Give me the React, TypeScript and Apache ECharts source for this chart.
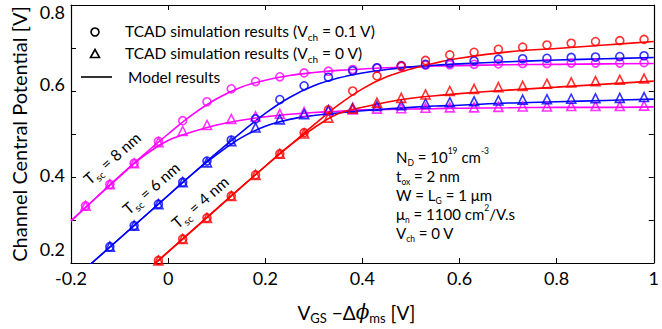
import React, { useEffect, useRef } from 'react';
import * as echarts from 'echarts';

// Simulation (TCAD) sample positions, V_GS - dphi_ms [V]
const xSim = [-0.17, -0.12, -0.07, -0.02, 0.03, 0.08, 0.13, 0.18, 0.23, 0.28, 0.33, 0.38,
  0.43, 0.48, 0.53, 0.58, 0.63, 0.68, 0.73, 0.78, 0.83, 0.88, 0.93, 0.98];

// TCAD results, Tsc = 8 nm
const sim8Vch01 = [0.333, 0.383, 0.432, 0.483, 0.531, 0.575, 0.605, 0.622, 0.633, 0.642, 0.646, 0.650,
  0.653, 0.657, 0.660, 0.661, 0.662, 0.663, 0.664, 0.664, 0.665, 0.665, 0.665, 0.666];
const sim8Vch0 = [0.333, 0.383, 0.432, 0.481, 0.507, 0.521, 0.535, 0.541, 0.547, 0.551, 0.554, 0.557,
  0.559, 0.560, 0.561, 0.562, 0.562, 0.563, 0.564, 0.564, 0.565, 0.565, 0.565, 0.566];
// TCAD results, Tsc = 6 nm
const sim6Vch01 = [null, 0.238, 0.287, 0.337, 0.388, 0.437, 0.486, 0.535, 0.580, 0.612, 0.632, 0.647,
  0.654, 0.659, 0.662, 0.665, 0.670, 0.674, 0.675, 0.676, 0.678, 0.679, 0.680, 0.682];
const sim6Vch0 = [null, 0.238, 0.287, 0.337, 0.388, 0.434, 0.483, 0.515, 0.534, 0.546, 0.556, 0.561,
  0.565, 0.567, 0.571, 0.574, 0.576, 0.578, 0.580, 0.581, 0.582, 0.583, 0.584, 0.586];
// TCAD results, Tsc = 4 nm
const sim4Vch01 = [null, null, null, 0.206, 0.256, 0.305, 0.356, 0.405, 0.454, 0.503, 0.556, 0.600,
  0.635, 0.658, 0.671, 0.684, 0.690, 0.697, 0.702, 0.707, 0.711, 0.715, 0.717, 0.720];
const sim4Vch0 = [null, null, null, 0.206, 0.256, 0.305, 0.356, 0.405, 0.454, 0.501, 0.538, 0.559,
  0.573, 0.584, 0.592, 0.600, 0.605, 0.609, 0.612, 0.617, 0.620, 0.623, 0.626, 0.629];

// Model curves
const xModel = [-0.2, -0.15, -0.1, -0.05, 0, 0.05, 0.1, 0.15, 0.2, 0.25, 0.3, 0.35, 0.4, 0.45,
  0.5, 0.55, 0.6, 0.7, 0.8, 0.9, 1.0];
const model8Vch01 = [0.298, 0.350, 0.402, 0.452, 0.500, 0.545, 0.582, 0.609, 0.625, 0.636, 0.643, 0.648,
  0.651, 0.654, 0.656, 0.658, 0.659, 0.661, 0.662, 0.663, 0.664];
const model8Vch0 = [0.298, 0.350, 0.401, 0.449, 0.485, 0.505, 0.521, 0.532, 0.540, 0.546, 0.550, 0.553,
  0.556, 0.557, 0.558, 0.559, 0.560, 0.561, 0.562, 0.562, 0.563];
const model6Vch01 = [0.157, 0.207, 0.257, 0.307, 0.357, 0.407, 0.456, 0.503, 0.548, 0.585, 0.612, 0.630,
  0.642, 0.650, 0.656, 0.660, 0.663, 0.668, 0.672, 0.675, 0.678];
const model6Vch0 = [0.157, 0.207, 0.257, 0.307, 0.357, 0.407, 0.452, 0.491, 0.518, 0.534, 0.543, 0.549,
  0.554, 0.558, 0.562, 0.565, 0.567, 0.572, 0.575, 0.578, 0.581];
const model4Vch01 = [null, null, null, 0.176, 0.226, 0.276, 0.326, 0.376, 0.425, 0.473, 0.521, 0.567,
  0.605, 0.633, 0.651, 0.665, 0.676, 0.691, 0.699, 0.707, 0.715];
const model4Vch0 = [null, null, null, 0.176, 0.226, 0.276, 0.326, 0.376, 0.425, 0.473, 0.514, 0.547,
  0.562, 0.574, 0.583, 0.589, 0.594, 0.602, 0.609, 0.616, 0.623];

const xTicks = [-0.2, 0, 0.2, 0.4, 0.6, 0.8, 1];
const yTickLabels = [0.2, 0.4, 0.6, 0.8];

const MAGENTA = '#ff00ff';
const BLUE = '#0000ff';
const RED = '#ff0000';
const FONT = 'Lato, "Open Sans", "DejaVu Sans", sans-serif';

const pairs = (xs: number[], ys: (number | null)[]) =>
  xs.map((x, i) => (ys[i] == null ? null : [x, ys[i]])).filter((p) => p !== null);

const linePairs = (xs: number[], ys: (number | null)[]) =>
  xs.map((x, i) => [x, ys[i] == null ? '-' : ys[i]]);

export default function App() {
  const ref = useRef<HTMLDivElement>(null);

  useEffect(() => {
    if (!ref.current) return;
    const chart = echarts.init(ref.current, undefined, { renderer: 'svg' });

    const scatter = (name: string, ys: (number | null)[], color: string, symbol: string, size: number) => ({
      name,
      type: 'scatter',
      data: pairs(xSim, ys),
      symbol,
      symbolSize: size,
      itemStyle: { color: 'rgba(0,0,0,0)', borderColor: color, borderWidth: 1.6 },
      z: 3,
    });
    const model = (name: string, ys: (number | null)[], color: string) => ({
      name,
      type: 'line',
      data: linePairs(xModel, ys),
      smooth: 0.4,
      showSymbol: false,
      symbol: 'none',
      lineStyle: { color, width: 1.6 },
      z: 2,
    });

    const sub = (size: number, color = '#000') => ({
      fontSize: size, fontFamily: FONT, color, verticalAlign: 'bottom', lineHeight: size,
    });
    const main = (size: number, color = '#000') => ({
      fontSize: size, fontFamily: FONT, color, lineHeight: size + 6,
    });
    const sup = (size: number, color = '#000') => ({
      fontSize: size, fontFamily: FONT, color, verticalAlign: 'top', lineHeight: size,
    });

    const legendRich = { m: main(15.5), s: sub(10) };
    const paramRich = { m: main(15), s: sub(8.5), p: sup(8.5) };

    const tscLabel = (txt: string, x: number, y: number, color: string) => ({
      type: 'text',
      x, y,
      rotation: 0.72,
      style: {
        text: `{m|T}{s|sc}{m| = ${txt}}`,
        rich: { m: main(15.5, color), s: sub(10, color) },
        align: 'center',
        verticalAlign: 'middle',
      },
    });

    const paramLine = (text: string, y: number) => ({
      type: 'text', x: 396, y,
      style: { text, rich: paramRich, align: 'left', verticalAlign: 'middle' },
    });

    const axisLine = { show: true, onZero: false, lineStyle: { color: '#000', width: 1.2 } };
    const axisTick = { show: true, inside: true, length: 5, lineStyle: { color: '#000' } };

    chart.setOption({
      animation: false,
      backgroundColor: '#ffffff',
      grid: { left: 71, right: 0, top: 5, bottom: 66 },
      xAxis: [
        {
          type: 'value', min: -0.2, max: 1, interval: 0.2, position: 'bottom',
          axisLine, axisTick,
          splitLine: { show: false },
          axisLabel: {
            color: '#000', fontSize: 18, fontFamily: FONT, margin: 6,
            formatter: (v: number) => {
              const r = Math.round(v * 10) / 10;
              return xTicks.includes(r) ? String(r) : '';
            },
          },
          name: '{a|V}{b|GS}{a| −Δ}{c|ϕ}{b|ms}{a| [V]}',
          nameLocation: 'middle',
          nameGap: 37,
          nameTextStyle: {
            padding: [0, 12, 0, 0],
            rich: {
              a: { fontSize: 19, fontFamily: FONT, color: '#000', lineHeight: 24 },
              b: { fontSize: 13, fontFamily: FONT, color: '#000', verticalAlign: 'bottom', lineHeight: 14 },
              c: { fontSize: 20, fontFamily: 'DejaVu Serif, serif', fontStyle: 'italic', color: '#000', lineHeight: 24 },
            },
          },
        },
        {
          type: 'value', min: -0.2, max: 1, interval: 0.2, position: 'top',
          axisLine, axisTick,
          axisLabel: { show: false },
          splitLine: { show: false },
        },
      ],
      yAxis: [
        {
          type: 'value', min: 0.2, max: 0.8, interval: 0.1, position: 'left',
          axisLine, axisTick,
          splitLine: { show: false },
          axisLabel: {
            color: '#000', fontSize: 18, fontFamily: FONT, margin: 6,
            formatter: (v: number) => {
              const r = Math.round(v * 10) / 10;
              if (!yTickLabels.includes(r)) return '';
              const key = 'l' + Math.round(r * 10);
              return `{${key}|${r}}`;
            },
            rich: {
              l2: { fontSize: 18, fontFamily: FONT, color: '#000', padding: [0, 0, 28, 0] },
              l4: { fontSize: 18, fontFamily: FONT, color: '#000', padding: [0, 0, 4, 0] },
              l6: { fontSize: 18, fontFamily: FONT, color: '#000', padding: [0, 0, 14, 0] },
              l8: { fontSize: 18, fontFamily: FONT, color: '#000', padding: [14, 0, 0, 0] },
            },
          },
          name: 'Channel Central Potential [V]',
          nameLocation: 'middle',
          nameGap: 42,
          nameTextStyle: { color: '#000', fontSize: 20, fontFamily: FONT },
        },
        {
          type: 'value', min: 0.2, max: 0.8, interval: 0.1, position: 'right',
          axisLine, axisTick,
          axisLabel: { show: false },
          splitLine: { show: false },
        },
      ],
      series: [
        model('Model 8 nm Vch=0.1', model8Vch01, MAGENTA),
        model('Model 8 nm Vch=0', model8Vch0, MAGENTA),
        model('Model 6 nm Vch=0.1', model6Vch01, BLUE),
        model('Model 6 nm Vch=0', model6Vch0, BLUE),
        model('Model 4 nm Vch=0.1', model4Vch01, RED),
        model('Model 4 nm Vch=0', model4Vch0, RED),
        scatter('TCAD 8 nm Vch=0.1', sim8Vch01, MAGENTA, 'circle', 8),
        scatter('TCAD 8 nm Vch=0', sim8Vch0, MAGENTA, 'triangle', 9),
        scatter('TCAD 6 nm Vch=0.1', sim6Vch01, BLUE, 'circle', 8),
        scatter('TCAD 6 nm Vch=0', sim6Vch0, BLUE, 'triangle', 9),
        scatter('TCAD 4 nm Vch=0.1', sim4Vch01, RED, 'circle', 8),
        scatter('TCAD 4 nm Vch=0', sim4Vch0, RED, 'triangle', 9),
      ],
      graphic: [
        { type: 'circle', shape: { cx: 95, cy: 32, r: 4 }, style: { fill: 'none', stroke: '#000', lineWidth: 1.6 } },
        { type: 'polygon', shape: { points: [[90.5, 57.5], [99.5, 57.5], [95, 49.5]] }, style: { fill: 'none', stroke: '#000', lineWidth: 1.6 } },
        { type: 'line', shape: { x1: 81, y1: 77, x2: 112, y2: 77 }, style: { stroke: '#000', lineWidth: 1.6 } },
        { type: 'text', x: 125, y: 31, style: { text: '{m|TCAD simulation results (V}{s|ch}{m| = 0.1 V)}', rich: legendRich, align: 'left', verticalAlign: 'middle' } },
        { type: 'text', x: 125, y: 53, style: { text: '{m|TCAD simulation results (V}{s|ch}{m| = 0 V)}', rich: legendRich, align: 'left', verticalAlign: 'middle' } },
        { type: 'text', x: 128, y: 77, style: { text: '{m|Model results}', rich: legendRich, align: 'left', verticalAlign: 'middle' } },
        tscLabel('8 nm', 112, 158, MAGENTA),
        tscLabel('6 nm', 151, 188, BLUE),
        tscLabel('4 nm', 200, 202, RED),
        paramLine('{m|N}{s|D}{m| = 10}{p|19}{m| cm}{p|-3}', 157),
        paramLine('{m|t}{s|ox}{m| = 2 nm}', 176),
        paramLine('{m|W = L}{s|G}{m| = 1 μm}', 195),
        paramLine('{m|μ}{s|n}{m| = 1100 cm}{p|2}{m|/V.s}', 214),
        paramLine('{m|V}{s|ch}{m| = 0 V}', 233),
      ],
    });

    return () => chart.dispose();
  }, []);

  return (
    <div
      ref={ref}
      style={{ position: 'fixed', left: 0, top: 0, width: 662, height: 329, background: '#fff' }}
    />
  );
}
